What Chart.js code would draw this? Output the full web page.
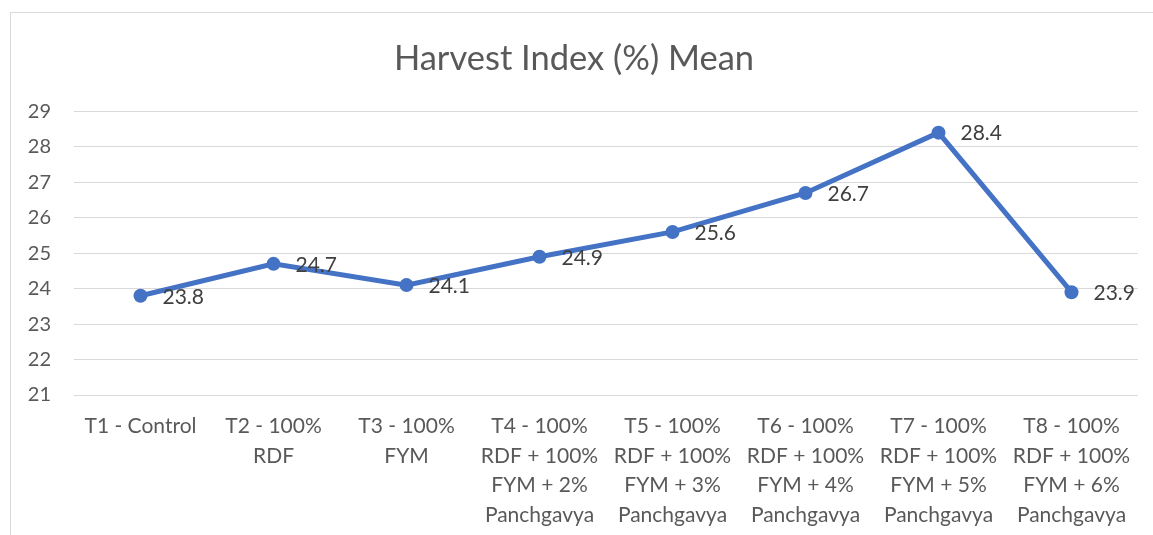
<!DOCTYPE html>
<html>
<head>
<meta charset="utf-8">
<script src="https://cdn.jsdelivr.net/npm/chart.js@4.4.1/dist/chart.umd.min.js"></script>
<style>
  html, body { margin: 0; padding: 0; background: #fff; width: 1153px; height: 535px; overflow: hidden; }
  #frame { position: absolute; left: 10px; top: 12px; width: 1200px; height: 600px; border: 1px solid #d9d9d9; box-sizing: border-box; }
  #wrap { position: absolute; left: 0; top: 0; width: 1153px; height: 535px; }
</style>
</head>
<body>
<div id="frame"></div>
<div id="wrap"><canvas id="c" width="1153" height="535"></canvas></div>
<script>
const categories = [
  ["T1 - Control"],
  ["T2 - 100%", "RDF"],
  ["T3 - 100%", "FYM"],
  ["T4 - 100%", "RDF + 100%", "FYM + 2%", "Panchgavya"],
  ["T5 - 100%", "RDF + 100%", "FYM + 3%", "Panchgavya"],
  ["T6 - 100%", "RDF + 100%", "FYM + 4%", "Panchgavya"],
  ["T7 - 100%", "RDF + 100%", "FYM + 5%", "Panchgavya"],
  ["T8 - 100%", "RDF + 100%", "FYM + 6%", "Panchgavya"]
];
const harvestIndexMean = [23.8, 24.7, 24.1, 24.9, 25.6, 26.7, 28.4, 23.9];
const yMin = 21, yMax = 29, yStep = 1;
const titleText = "Harvest Index (%) Mean";

const FONT = "Lato, 'Open Sans', sans-serif";

const labelPlugin = {
  id: 'pointLabels',
  afterDatasetsDraw(chart) {
    const ctx = chart.ctx;
    const meta = chart.getDatasetMeta(0);
    ctx.save();
    ctx.font = "21px " + FONT;
    ctx.fillStyle = "#404040";
    ctx.textAlign = "left";
    ctx.textBaseline = "middle";
    meta.data.forEach((pt, i) => {
      ctx.fillText(harvestIndexMean[i].toFixed(1), pt.x + 22, pt.y + 1);
    });
    ctx.restore();
  }
};

new Chart(document.getElementById('c'), {
  type: 'line',
  data: {
    labels: categories,
    datasets: [{
      data: harvestIndexMean,
      borderColor: '#4472C4',
      backgroundColor: '#4472C4',
      borderWidth: 5,
      pointRadius: 7,
      pointHoverRadius: 7,
      pointBorderWidth: 0,
      tension: 0
    }]
  },
  options: {
    responsive: false,
    animation: false,
    events: [],
    layout: { padding: { left: 10, right: 15, top: 0, bottom: 0 } },
    plugins: {
      legend: { display: false },
      tooltip: { enabled: false },
      title: {
        display: true,
        text: titleText,
        color: '#595959',
        font: { family: FONT, size: 34.5, weight: 'normal' },
        padding: { top: 38, bottom: 32 }
      }
    },
    scales: {
      x: {
        offset: true,
        grid: { display: false, drawTicks: false },
        border: { display: false },
        ticks: {
          color: '#595959',
          font: { family: FONT, size: 21, lineHeight: 1.4 },
          padding: 17,
          maxRotation: 0,
          autoSkip: false
        },
        afterFit(s) { s.height = 140; }
      },
      y: {
        min: yMin, max: yMax,
        grid: { color: '#d9d9d9', lineWidth: 1, drawTicks: false },
        border: { display: false },
        ticks: {
          stepSize: yStep,
          color: '#595959',
          font: { family: FONT, size: 20 },
          padding: 23
        },
        afterFit(s) { s.width = 64; }
      }
    }
  },
  plugins: [labelPlugin]
});
</script>
</body>
</html>
